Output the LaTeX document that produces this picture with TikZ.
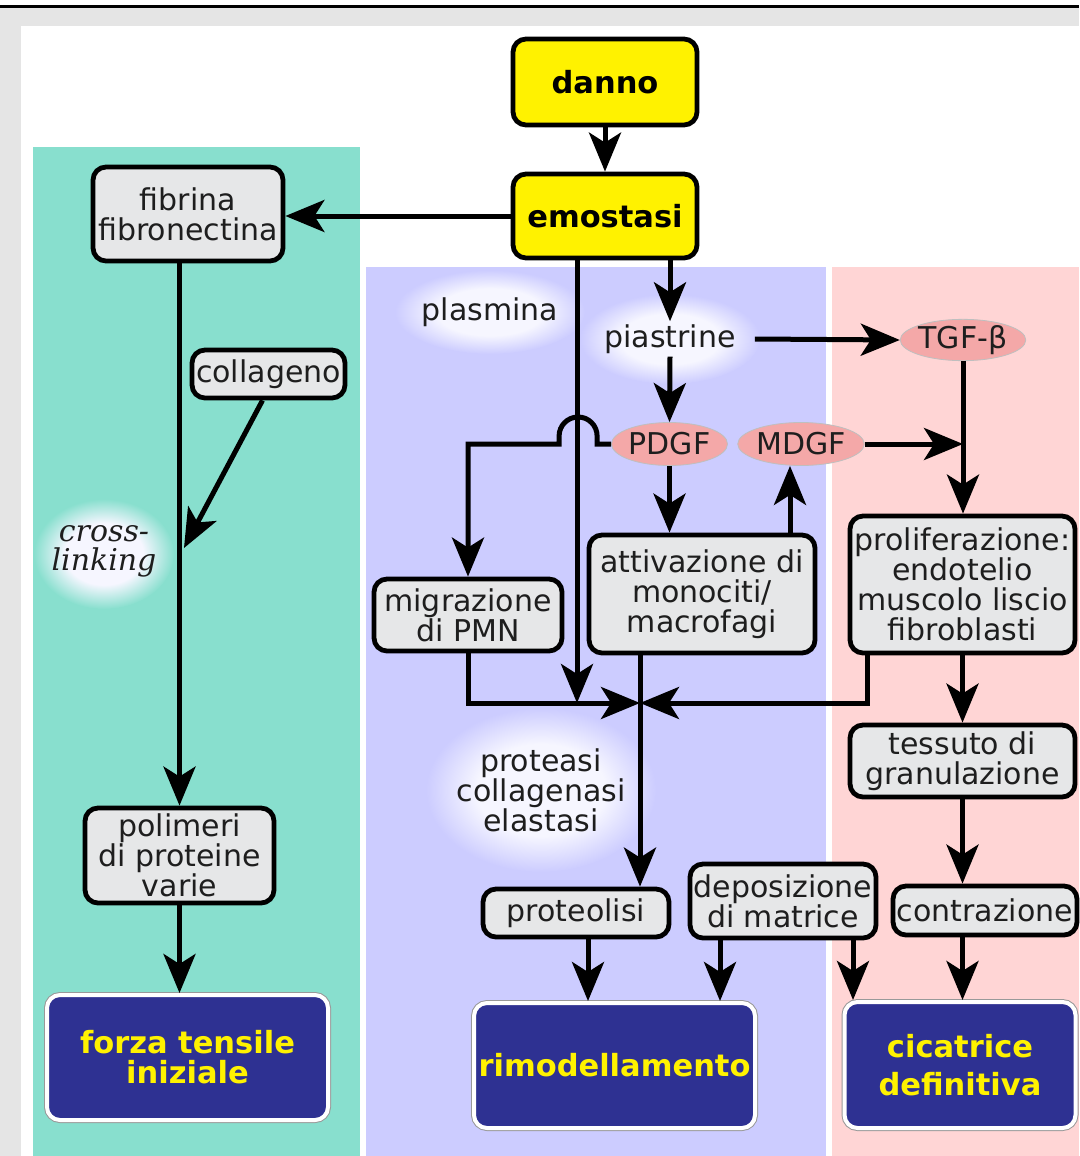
\documentclass[tikz,border=0pt]{standalone}
\usepackage{fontspec}
\setmainfont{DejaVu Sans}
\newfontfamily\dvserif{DejaVu Serif}
\usetikzlibrary{arrows.meta,shapes.geometric}
\definecolor{teal1}{HTML}{88DFCE}
\definecolor{lav}{HTML}{CCCCFF}
\definecolor{pinkbg}{HTML}{FFD5D5}
\definecolor{framegrey}{HTML}{E5E5E5}
\definecolor{yel}{HTML}{FFF200}
\definecolor{boxgrey}{HTML}{E6E7E8}
\definecolor{navy}{HTML}{2E3192}
\definecolor{ellpink}{HTML}{F4A8A8}
\definecolor{glowc}{HTML}{F6F6FF}
\definecolor{txt}{HTML}{1E1E1E}
\pgfdeclareradialshading{glowlav}{\pgfpointorigin}{color(0bp)=(glowc); color(14bp)=(glowc); color(25bp)=(lav); color(50bp)=(lav)}
\pgfdeclareradialshading{glowteal}{\pgfpointorigin}{color(0bp)=(glowc); color(14bp)=(glowc); color(25bp)=(teal1); color(50bp)=(teal1)}
\newcommand{\fsz}{\fontsize{30}{30}\selectfont}
\newcommand{\fszb}{\fontsize{30.5}{30}\selectfont\bfseries}
\tikzset{
  box/.style={draw=black, line width=4.8pt, rounded corners=13pt, fill=boxgrey, text=txt, align=center, font=\fsz, inner sep=0pt},
  ybox/.style={box, fill=yel, text=black, font=\fszb},
  nbox/.style={draw=white, line width=4pt, rounded corners=13pt, fill=navy, text=yel, align=center, font=\fszb, inner sep=0pt, preaction={draw=black!40, line width=6pt}},
  ell/.style={ellipse, fill=ellpink, draw=black!25, line width=0.8pt, text=txt, font=\fsz, inner sep=0pt},
  lbl/.style={text=txt, font=\fsz, align=center, inner sep=3pt},
  arr/.style={line width=5pt, -{Stealth[length=39pt, width=32pt, inset=10pt]}}
}
\begin{document}
\begin{tikzpicture}[x=1pt, y=-1pt]
\useasboundingbox (0,0) rectangle (1079,1156);
% frame
\fill[framegrey] (0,8) rectangle (1079,1156);
\fill[white] (21,26) rectangle (1079,1156);
\draw[line width=2.5pt] (0,6.3) -- (1079,6.3);
% panels
\fill[teal1] (33,147) rectangle (360,1156);
\fill[lav] (366,267) rectangle (826,1156);
\fill[pinkbg] (832,267) rectangle (1079,1156);
% glows
\shade[shading=glowlav] (490,312) ellipse[x radius=95, y radius=42];
\shade[shading=glowlav] (670,339) ellipse[x radius=90, y radius=45];
\shade[shading=glowteal] (104,554) ellipse[x radius=70, y radius=55];
\shade[shading=glowlav] (541,790) ellipse[x radius=115, y radius=82];
% nodes
\node[ybox, minimum width=184pt, minimum height=86pt] (danno) at (605,82) {danno};
\node[ybox, minimum width=184pt, minimum height=84pt] (emo) at (605,216) {emostasi};
\node[box, minimum width=190pt, minimum height=94pt] (fib) at (188,214) {fibrina\\fibronectina};
\node[box, minimum width=153pt, minimum height=48pt] (col) at (268.5,374) {collageno};
\node[box, minimum width=189pt, minimum height=95pt] (pol) at (179.5,855.5) {polimeri\\di proteine\\varie};
\node[nbox, minimum width=281pt, minimum height=125pt] (forza) at (187.5,1057.5) {forza tensile\\iniziale};
\node[box, minimum width=188pt, minimum height=72pt] (mig) at (468,615) {migrazione\\di PMN};
\node[box, minimum width=226pt, minimum height=118pt] (att) at (702,594) {attivazione di\\monociti/\\macrofagi};
\node[box, minimum width=225pt, minimum height=137pt] (prol) at (962.5,584.5) {proliferazione:\\endotelio\\muscolo liscio\\fibroblasti};
\node[box, minimum width=225pt, minimum height=72pt] (tes) at (962.5,761) {tessuto di\\granulazione};
\node[box, minimum width=186pt, minimum height=48pt] (prot) at (576,913) {proteolisi};
\node[box, minimum width=186pt, minimum height=74pt] (dep) at (783,901) {deposizione\\di matrice};
\node[box, minimum width=184pt, minimum height=49pt] (con) at (985,910.5) {contrazione};
\node[nbox, minimum width=281pt, minimum height=125pt] (rim) at (614.5,1065.5) {rimodellamento};
\node[nbox, minimum width=231pt, minimum height=126pt] (cic) at (960,1065) {cicatrice\\[8pt]definitiva};
\node[ell, minimum width=117pt, minimum height=41pt] (tgf) at (963,340) {TGF-β};
\node[ell, minimum width=116pt, minimum height=43pt] (pdgf) at (669.5,444) {PDGF};
\node[ell, minimum width=117pt, minimum height=43pt] (mdgf) at (801,444) {MDGF};
\node[lbl] (plas) at (490,312) {plasmina};
\node[lbl] (pia) at (670,339) {piastrine};
\node[lbl, font=\fontsize{30}{29}\selectfont\dvserif\itshape] (xl) at (104,551) {cross-\\linking};
\node[lbl] (prots) at (541,790) {proteasi\\collagenasi\\elastasi};
% coordinates
\coordinate (J) at (640,703);
\coordinate (CL) at (184,548);
\coordinate (es) at ([xshift=-28pt]emo.south);
\coordinate (mdin) at ([xshift=-11pt]mdgf.south);
\coordinate (pl) at ([xshift=20pt]prol.south west);
\coordinate (p1) at ([xshift=12pt]prot.south);
\coordinate (d1) at ([xshift=-63pt]dep.south);
\coordinate (d2) at ([xshift=70pt]dep.south);
% connectors
\draw[arr] (danno.south) -- (emo.north);
\draw[arr] (emo.west) -- (emo.west -| fib.east);
\draw[arr] (emo.south -| pia.north) -- (pia.north);
\draw[arr] ([xshift=16pt]pia.east) -- (tgf.west);
\draw[arr] (pia.south) -- (pdgf.north);
\draw[arr] (pdgf.south) -- (pdgf.south |- att.north);
\draw[arr] (mdin |- att.north) -- (mdin);
\draw[arr] (mdgf.east) -- (mdgf.east -| tgf.south);
\draw[arr] (tgf.south) -- (tgf.south |- prol.north);
\draw[arr] (pdgf.west) -- ++(-14,0) -- ++(0,-8) arc[start angle=0, end angle=-180, radius=19] -- ++(0,8) -| (mig.north);
\draw[arr] (es) -- (es |- J);
\draw[arr] (mig.south) |- (J);
\draw[arr] (pl) |- (J);
\draw[arr] (att.south -| J) -- (J |- prot.north);
\draw[arr] (pol.north |- fib.south) -- (pol.north);
\draw[arr] ([xshift=-6pt]col.south) -- (CL);
\draw[arr] (pol.south) -- (pol.south |- forza.north);
\draw[arr] (prol.south) -- (tes.north);
\draw[arr] (tes.south) -- (tes.south |- con.north);
\draw[arr] (tes.south |- con.south) -- (tes.south |- cic.north);
\draw[arr] (p1) -- (p1 |- rim.north);
\draw[arr] (d1) -- (d1 |- rim.north);
\draw[arr] (d2) -- (d2 |- cic.north);
\end{tikzpicture}
\end{document}
